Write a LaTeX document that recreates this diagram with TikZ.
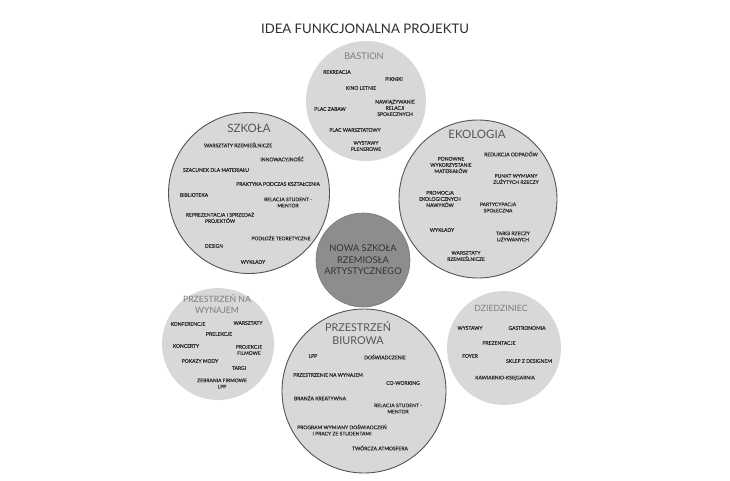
\documentclass[tikz,border=0pt]{standalone}
\usepackage{fontspec}
\setmainfont{Lato}
\newfontfamily\itemfont{Lato}[FakeBold=0.35]
\definecolor{cfill}{RGB}{216,216,216}
\definecolor{cdark}{RGB}{141,141,141}
\definecolor{cline}{RGB}{85,85,85}
\definecolor{hdark}{RGB}{85,85,85}
\definecolor{hlight}{RGB}{125,125,125}
\definecolor{itxt}{RGB}{45,45,45}
\begin{document}
\begin{tikzpicture}[x=1pt,y=-1pt,
  circ/.style={circle,fill=cfill,draw=none,minimum size=#1,inner sep=0pt},
  circo/.style={circle,fill=cfill,draw=cline,line width=0.9pt,minimum size=#1,inner sep=0pt},
  item/.style={text=itxt,font=\itemfont\fontsize{5}{6.2}\selectfont,align=center,inner sep=0pt},
  headd/.style={text=hdark,font=\fontsize{11.5}{13}\selectfont,align=center,inner sep=0pt},
  headl/.style={text=hlight,font=\fontsize{8.7}{11}\selectfont,align=center,inner sep=0pt},
  titl/.style={text=itxt,font=\fontsize{13.2}{15}\selectfont,inner sep=0pt}]
\useasboundingbox[fill=white] (0,0) rectangle (730,480);

\node[titl] (title) at (365,29) {IDEA FUNKCJONALNA PROJEKTU};

% circles
\node[circ=120pt] (bastion) at (366,101) {};
\node[circo=161pt] (szkola) at (249,193) {};
\node[circo=158pt] (ekologia) at (478,199) {};
\node[circ=112pt] (wynajem) at (218,344) {};
\node[circo=164pt] (biurowa) at (364,391) {};
\node[circ=114pt] (dziedziniec) at (504,348) {};
\node[circle,fill=cdark,draw=cline!80,line width=0.6pt,minimum size=94pt,inner sep=0pt] (center) at (363,260) {};
\node[text=black!80,font=\fontsize{9.3}{11.5}\selectfont,align=center] (ctext) at (center) {NOWA SZKOŁA\\RZEMIOSŁA\\ARTYSTYCZNEGO};

% Bastion
\node[headl,font=\fontsize{9.2}{11}\selectfont] (bh) at (364,56) {BASTION};
\node[item] (b1) at (337,72) {REKREACJA};
\node[item] (b2) at (394,79) {PIKNIKI};
\node[item] (b3) at (361,88) {KINO LETNIE};
\node[item] (b4) at (395,108) {NAWIĄZYWANIE\\RELACJI\\SPOŁECZNYCH};
\node[item] (b5) at (330,109) {PLAC ZABAW};
\node[item] (b6) at (355,130) {PLAC WARSZTATOWY};
\node[item] (b7) at (366,146) {WYSTAWY\\PLENEROWE};

% Szkola
\node[headd] (sh) at (249,128) {SZKOŁA};
\node[item] (s1) at (238,145) {WARSZTATY RZEMIEŚLNICZE};
\node[item] (s2) at (282,159) {INNOWACYJNOŚĆ};
\node[item] (s3) at (216,170) {SZACUNEK DLA MATERIAŁU};
\node[item] (s4) at (278,184) {PRAKTYKA PODCZAS KSZTAŁCENIA};
\node[item] (s5) at (194,195) {BIBLIOTEKA};
\node[item] (s6) at (288,202.5) {RELACJA STUDENT -\\MENTOR};
\node[item] (s7) at (220,217.5) {REPREZENTACJA I SPRZEDAŻ\\PROJEKTÓW};
\node[item] (s8) at (281,238) {PODŁOŻE TEORETYCZNE};
\node[item] (s9) at (214,246) {DESIGN};
\node[item] (s10) at (253,262) {WYKŁADY};

% Ekologia
\node[headd] (eh) at (477,134) {EKOLOGIA};
\node[item] (e1) at (511,154) {REDUKCJA ODPADÓW};
\node[item] (e2) at (451,165) {PONOWNE\\WYKORZYSTANIE\\MATERIAŁÓW};
\node[item] (e3) at (516,179) {PUNKT WYMIANY\\ZUŻYTYCH RZECZY};
\node[item] (e4) at (440,199) {PROMOCJA\\EKOLOGICZNYCH\\NAWYKÓW};
\node[item] (e5) at (498,207.5) {PARTYCYPACJA\\SPOŁECZNA};
\node[item] (e6) at (442,230) {WYKŁADY};
\node[item] (e7) at (513,236.5) {TARGI RZECZY\\UŻYWANYCH};
\node[item] (e8) at (466,256) {WARSZTATY\\RZEMIEŚLNICZE};

% Przestrzen na wynajem
\node[headl] (wh) at (217,304.5) {PRZESTRZEŃ NA\\WYNAJEM};
\node[item] (w1) at (188,324) {KONFERENCJE};
\node[item] (w2) at (248,323) {WARSZTATY};
\node[item] (w3) at (219,334) {PRELEKCJE};
\node[item] (w4) at (186,346) {KONCERTY};
\node[item] (w5) at (249,350) {PROJEKCJE\\FILMOWE};
\node[item] (w6) at (200,361) {POKAZY MODY};
\node[item] (w7) at (239,368) {TARGI};
\node[item] (w8) at (222,383.5) {ZEBRANIA FIRMOWE\\LPP};

% Przestrzen biurowa
\node[headd,font=\fontsize{10.8}{12.5}\selectfont] (ph) at (358,333) {PRZESTRZEŃ\\BIUROWA};
\node[item] (p1) at (313,356) {LPP};
\node[item] (p2) at (385,357) {DOŚWIADCZENIE};
\node[item] (p3) at (328,375) {PRZESTRZENIE NA WYNAJEM};
\node[item] (p4) at (403,383) {CO-WORKING};
\node[item] (p5) at (320,398) {BRANŻA KREATYWNA};
\node[item] (p6) at (398,408.5) {RELACJA STUDENT -\\MENTOR};
\node[item] (p7) at (342,430) {PROGRAM WYMIANY DOŚWIADCZEŃ\\I PRACY ZE STUDENTAMI};
\node[item] (p8) at (380,448) {TWÓRCZA ATMOSFERA};

% Dziedziniec
\node[headl] (dh) at (501,308) {DZIEDZINIEC};
\node[item] (d1) at (470,328) {WYSTAWY};
\node[item] (d2) at (527,328) {GASTRONOMIA};
\node[item] (d3) at (499,343) {PREZENTACJE};
\node[item] (d4) at (470,356) {FOYER};
\node[item] (d5) at (529,361) {SKLEP Z DESIGNEM};
\node[item] (d6) at (505,378) {KAWIARNIO-KSIĘGARNIA};
\end{tikzpicture}
\end{document}
